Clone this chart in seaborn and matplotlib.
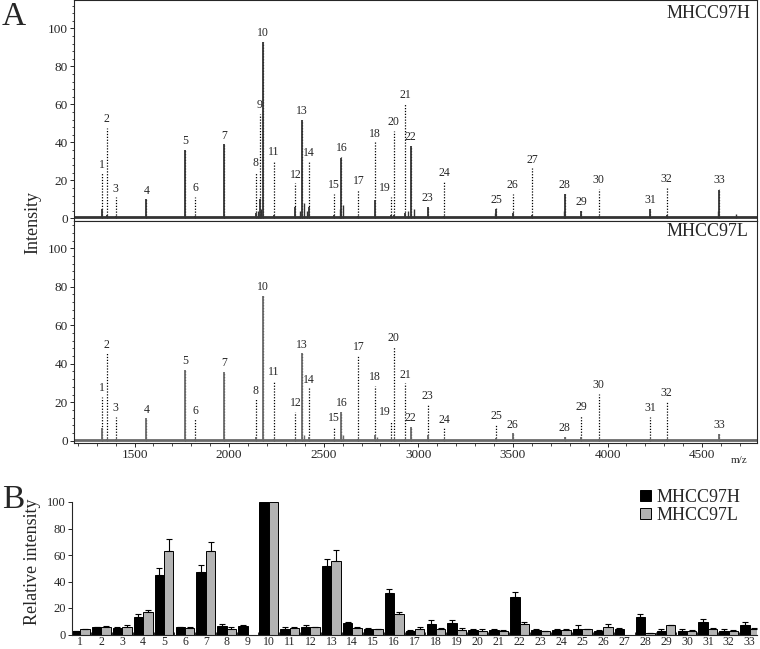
import numpy as np
import pandas as pd
import matplotlib
matplotlib.use("Agg")
import matplotlib.pyplot as plt
import seaborn as sns
from matplotlib.ticker import MultipleLocator, FixedLocator
from matplotlib.patches import Patch

# ---------------- data ----------------
peak_ids = list(range(1, 34))
peak_mz = [1329, 1354, 1400, 1563, 1768, 1821, 1975, 2140, 2161, 2179, 2235,
           2350, 2384, 2422, 2553, 2593, 2683, 2770, 2854, 2869, 2930, 2959,
           3050, 3135, 3412, 3498, 3602, 3774, 3862, 3953, 4225, 4313, 4590]

# MHCC97H spectrum: actual peak heights and label-marker heights
h_peak = [5, 2, 1, 10, 36, 1, 39, 3, 10, 93, 1.5, 6, 52, 6, 2, 32, 1, 9.6, 2,
          2, 3, 38, 6, 1, 5, 3, 1.5, 13, 4, 1, 5, 1.5, 15]
h_mark = [23.7, 47.4, 11, 10, 36, 11.4, 38.6, 24.5, 55, 93, 30.3, 18.4, 52, 30,
          13, 32.4, 15, 40, 11.4, 46, 60.5, 38, 6, 19.3, 5.2, 12.8, 26.3, 12.8,
          4, 15.4, 5, 16.3, 15.3]
h_extra_mz = [2150, 2168, 2372, 2398, 2410, 2585, 2600, 2945, 2975, 3405, 3770, 4585, 4680]
h_extra_int = [4, 5, 4, 8, 4, 5, 7, 4, 5, 3, 4, 4, 2.5]

# MHCC97L spectrum (no labels 9 and 27)
l_peak = [6.4, 1, 1, 11.6, 36.7, 1, 35.9, 2, 0, 75.2, 1, 1, 45.4, 2, 1, 15.1,
          1, 3, 1, 1, 1, 7, 3, 1, 1.5, 3.8, 0, 2, 2, 1, 1, 1, 3.5]
l_mark = [22.9, 45.4, 12.5, 11.6, 36.7, 11.1, 35.9, 21.5, np.nan, 75.2, 31.2,
          15.1, 45.4, 27.2, 7, 15.1, 44, 28.4, 10.4, 48.9, 29.8, 7, 18.6, 6.4,
          8.2, 3.8, np.nan, 2, 12.8, 24.3, 12.2, 20.3, 3.5]
l_extra_mz = [2398, 2590, 2600, 2780]
l_extra_int = [3, 3, 3, 2]

# Relative intensity (panel B)
rel_H = [2.5, 5.3, 5, 13.3, 44.9, 5.3, 47.4, 6.3, 6.3, 100, 4.3, 5.5, 51.9, 8.8,
         4.3, 31.3, 3, 8.3, 8.8, 3.3, 3.5, 28.6, 3.5, 3.5, 4.5, 2.8, 4.3, 13.5,
         2.8, 2.8, 9.3, 2.8, 7.3]
err_H = [0.5, 0.5, 0.8, 2, 5.5, 0.5, 4.8, 1.7, 0.5, 0, 1.2, 1.7, 5, 0.7, 0.5,
         3.3, 0.5, 3, 2.5, 0.5, 1, 3.5, 1, 1, 2.5, 0.5, 0.5, 2, 1, 1, 2.3, 1, 2]
rel_L = [4, 5.8, 5.5, 16.8, 62.7, 5, 62.7, 4, 0, 100, 5, 5.3, 55.6, 5, 3.8,
         15.8, 4.5, 3.8, 3.3, 2.8, 2.8, 8, 2.3, 3.3, 3.8, 6, 0, 1, 7, 2.8, 4.3,
         2.8, 3.8]
err_L = [0.3, 0.5, 1.5, 2, 9.3, 0.5, 7.3, 1.5, 0, 0, 0.5, 0.5, 8, 0.5, 0.3,
         1.3, 1.3, 1.3, 1.3, 1, 0.5, 1.3, 0.5, 0.5, 0.5, 2.3, 0, 0.5, 0.5, 0.5,
         0.5, 0.5, 0.8]
line_names = ["MHCC97H", "MHCC97L"]
mz_ticks = [1500, 2000, 2500, 3000, 3500, 4000, 4500]

# ---------------- style ----------------
sns.set_style("ticks")
plt.rcParams["font.family"] = ["Liberation Serif", "DejaVu Serif"]
plt.rcParams["axes.linewidth"] = 0.8

W, H = 760, 649
fig = plt.figure(figsize=(W / 100, H / 100), dpi=100)


def frac(x0, y0, x1, y1):
    return [x0 / W, 1 - y1 / H, (x1 - x0) / W, (y1 - y0) / H]


ax1 = fig.add_axes(frac(74, 0, 757, 221))
ax2 = fig.add_axes(frac(74, 221, 757, 443))
axB = fig.add_axes(frac(72, 502, 757, 634.5))

label_dx = {19: -4}


def draw_spec(ax, peaks, marks, ex_mz, ex_int, color, ylim):
    ax.axhline(0.5, color=color, lw=2.0, zorder=2)
    for pid, mz, m in zip(peak_ids, peak_mz, marks):
        if np.isnan(m):
            continue
        ax.vlines(mz, 0, m, colors="black", linestyles=(0, (1, 1.3)), lw=0.9, zorder=1)
        ax.annotate(str(pid), (mz, m), xytext=(label_dx.get(pid, 0), 2),
                    textcoords="offset points", ha="center", va="bottom",
                    fontsize=8.5)
    ax.vlines(peak_mz, 0, peaks, colors=color, lw=1.3, zorder=3)
    ax.vlines(ex_mz, 0, ex_int, colors=color, lw=1.0, zorder=3)
    ax.set_xlim(1180, 4790)
    ax.set_ylim(*ylim)
    ax.yaxis.set_minor_locator(MultipleLocator(4))
    ax.set_yticks([0, 20, 40, 60, 80, 100])
    ax.xaxis.set_major_locator(FixedLocator(mz_ticks))
    ax.xaxis.set_minor_locator(MultipleLocator(100))
    ax.tick_params(axis="both", which="major", length=3, width=0.7, labelsize=9.5, pad=1.5)
    ax.tick_params(axis="both", which="minor", length=1.8, width=0.6)
    for s in ax.spines.values():
        s.set_visible(True)
        s.set_linewidth(0.8)


draw_spec(ax1, h_peak, h_mark, h_extra_mz, h_extra_int, "#333333", (-1.4, 114.9))
draw_spec(ax2, l_peak, l_mark, l_extra_mz, l_extra_int, "#6a6a6a", (-1.2, 114.2))
ax1.tick_params(labelbottom=False)

fig.text(750 / W, 1 - 18 / H, "MHCC97H", ha="right", va="baseline", fontsize=13)
fig.text(748 / W, 1 - 236 / H, "MHCC97L", ha="right", va="baseline", fontsize=13)
fig.text(739 / W, 1 - 463 / H, "m/z", ha="center", va="baseline", fontsize=8)
fig.text(33 / W, 1 - 222 / H, "Intensity", rotation=90, ha="center", va="center", fontsize=13)
fig.text(2 / W, 1 - 25 / H, "A", ha="left", va="baseline", fontsize=24)
fig.text(2 / W, 1 - 508 / H, "B", ha="left", va="baseline", fontsize=24)

# ---------------- panel B ----------------
df = pd.DataFrame({
    "peak": [str(p) for p in peak_ids] * 2,
    "line": [line_names[0]] * len(peak_ids) + [line_names[1]] * len(peak_ids),
    "value": rel_H + rel_L,
})
pal = {line_names[0]: "black", line_names[1]: "#b3b3b3"}
sns.barplot(data=df, x="peak", y="value", hue="line", palette=pal,
            edgecolor="black", linewidth=0.7, width=0.9, errorbar=None,
            legend=False, ax=axB, saturation=1)

for cont, vals, errs in zip(axB.containers, [rel_H, rel_L], [err_H, err_L]):
    xs = [b.get_x() + b.get_width() / 2 for b in cont]
    xe, ye, ee = [], [], []
    for x, v, e in zip(xs, vals, errs):
        if v > 0 and e > 0:
            xe.append(x); ye.append(v); ee.append(e)
    axB.errorbar(xe, ye, yerr=[np.zeros(len(ee)), ee], fmt="none",
                 ecolor="black", elinewidth=0.8, capsize=2.2, capthick=0.8, zorder=4)

axB.set_xlim(-0.4, 32.35)
axB.set_ylim(0, 100)
axB.set_yticks([0, 20, 40, 60, 80, 100])
axB.set_xlabel("")
axB.set_ylabel("Relative intensity", fontsize=13, labelpad=2)
axB.yaxis.set_label_coords(-(72 - 41) / (757 - 72), 0.55)
axB.xaxis.set_minor_locator(FixedLocator(np.arange(-0.5, 33, 1)))
axB.tick_params(axis="x", which="major", length=0, labelsize=8.5, pad=1)
axB.tick_params(axis="x", which="minor", direction="in", length=2.5, width=0.7)
axB.tick_params(axis="y", which="major", length=3, width=0.7, labelsize=9, pad=1.5)
sns.despine(ax=axB)

handles = [Patch(facecolor=pal[n], edgecolor="black", linewidth=0.7, label=n) for n in line_names]
fig.legend(handles=handles, loc="upper left", bbox_to_anchor=(640 / W, 1 - 489 / H),
           fontsize=13, frameon=False, handlelength=0.6, handleheight=0.6,
           labelspacing=0.05, handletextpad=0.3, borderpad=0, borderaxespad=0)

fig.savefig("out.png", dpi=100)
